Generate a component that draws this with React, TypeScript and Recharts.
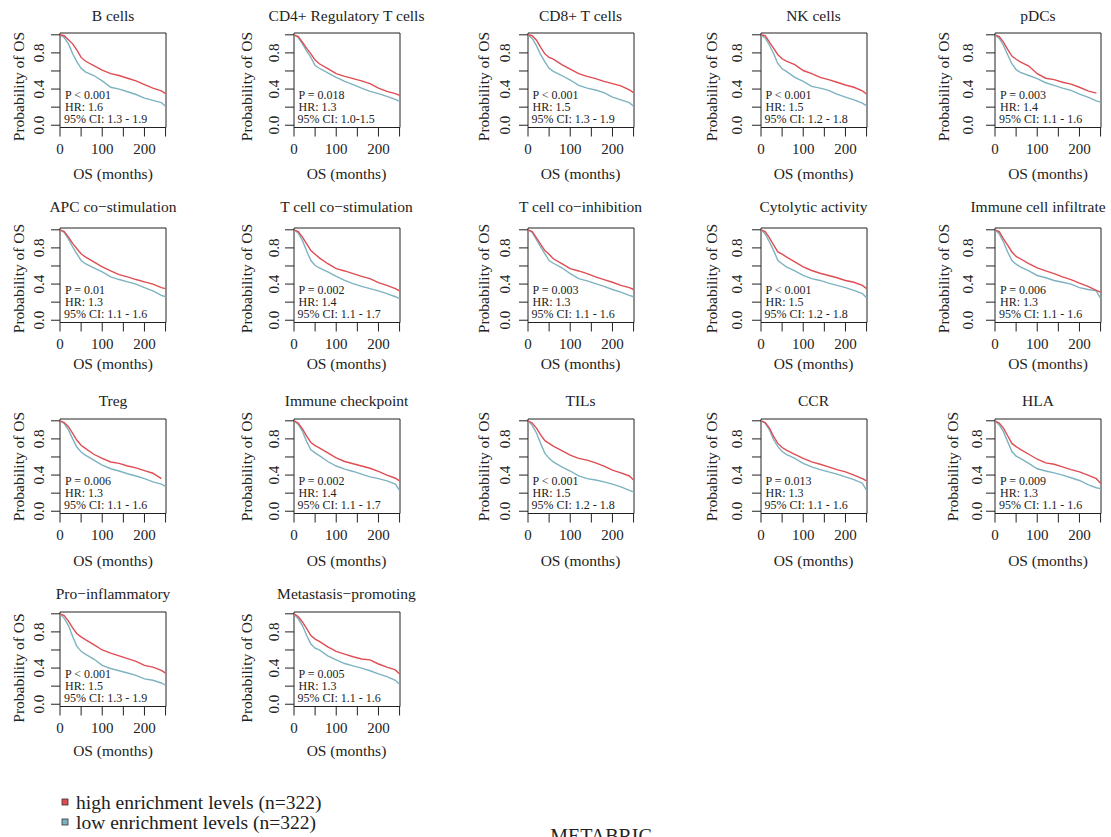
import React from "react";
import { LineChart, Line, XAxis, YAxis, ReferenceArea } from "recharts";

// ---------- DATA ----------
const months = [0, 10, 20, 30, 40, 50, 60, 80, 100, 120, 140, 160, 180, 200, 220, 240, 250];

const bCellsHigh = [1, 0.99, 0.945, 0.9, 0.83, 0.75, 0.71, 0.66, 0.61, 0.57, 0.55, 0.52, 0.49, 0.45, 0.41, 0.38, 0.35];
const bCellsLow = [1, 0.97, 0.9, 0.79, 0.7, 0.63, 0.59, 0.55, 0.49, 0.42, 0.4, 0.37, 0.34, 0.3, 0.275, 0.25, 0.21];
const cd4High = [1, 0.98, 0.92, 0.85, 0.79, 0.72, 0.68, 0.625, 0.57, 0.54, 0.515, 0.49, 0.46, 0.41, 0.375, 0.35, 0.33];
const cd4Low = [1, 0.97, 0.9, 0.82, 0.75, 0.66, 0.63, 0.58, 0.53, 0.485, 0.45, 0.41, 0.375, 0.35, 0.32, 0.285, 0.265];
const cd8High = [1, 0.99, 0.94, 0.86, 0.79, 0.75, 0.73, 0.67, 0.62, 0.57, 0.54, 0.515, 0.485, 0.46, 0.435, 0.39, 0.36];
const cd8Low = [1, 0.96, 0.88, 0.78, 0.7, 0.63, 0.595, 0.55, 0.5, 0.44, 0.41, 0.39, 0.36, 0.31, 0.28, 0.25, 0.21];
const nkHigh = [1, 0.99, 0.92, 0.85, 0.78, 0.735, 0.71, 0.67, 0.605, 0.57, 0.53, 0.505, 0.475, 0.445, 0.42, 0.38, 0.345];
const nkLow = [1, 0.965, 0.885, 0.79, 0.68, 0.625, 0.595, 0.53, 0.485, 0.43, 0.41, 0.385, 0.345, 0.31, 0.28, 0.245, 0.215];
const pdcHigh = [1, 0.98, 0.92, 0.84, 0.765, 0.73, 0.7, 0.655, 0.57, 0.52, 0.505, 0.475, 0.455, 0.42, 0.38, 0.355, null];
const pdcLow = [1, 0.96, 0.885, 0.78, 0.68, 0.615, 0.585, 0.55, 0.515, 0.47, 0.44, 0.41, 0.385, 0.345, 0.31, 0.27, 0.255];
const apcHigh = [1, 0.98, 0.92, 0.85, 0.79, 0.735, 0.7, 0.645, 0.59, 0.545, 0.505, 0.48, 0.45, 0.425, 0.4, 0.36, 0.35];
const apcLow = [1, 0.97, 0.9, 0.81, 0.735, 0.66, 0.625, 0.58, 0.535, 0.48, 0.45, 0.425, 0.4, 0.36, 0.325, 0.275, 0.26];
const tcsHigh = [1, 0.98, 0.92, 0.845, 0.77, 0.73, 0.69, 0.625, 0.57, 0.545, 0.515, 0.485, 0.46, 0.415, 0.385, 0.35, 0.325];
const tcsLow = [1, 0.965, 0.88, 0.765, 0.66, 0.605, 0.58, 0.535, 0.485, 0.44, 0.405, 0.375, 0.35, 0.325, 0.295, 0.26, 0.24];
const tciHigh = [1, 0.98, 0.91, 0.84, 0.77, 0.73, 0.68, 0.625, 0.57, 0.545, 0.515, 0.48, 0.45, 0.42, 0.385, 0.36, 0.34];
const tciLow = [1, 0.97, 0.89, 0.81, 0.735, 0.66, 0.63, 0.58, 0.515, 0.46, 0.435, 0.405, 0.375, 0.34, 0.31, 0.275, 0.26];
const cytHigh = [1, 0.98, 0.91, 0.83, 0.755, 0.73, 0.7, 0.645, 0.59, 0.55, 0.52, 0.495, 0.47, 0.44, 0.42, 0.385, 0.35];
const cytLow = [1, 0.955, 0.865, 0.77, 0.66, 0.625, 0.59, 0.545, 0.495, 0.46, 0.44, 0.41, 0.385, 0.36, 0.33, 0.295, 0.25];
const iciHigh = [1, 0.98, 0.9, 0.83, 0.755, 0.705, 0.68, 0.625, 0.58, 0.545, 0.515, 0.48, 0.45, 0.41, 0.375, 0.33, 0.31];
const iciLow = [1, 0.955, 0.865, 0.755, 0.66, 0.62, 0.59, 0.545, 0.495, 0.47, 0.44, 0.42, 0.4, 0.36, 0.34, 0.325, 0.24];
const tregHigh = [1, 0.98, 0.935, 0.86, 0.785, 0.73, 0.695, 0.63, 0.585, 0.545, 0.53, 0.5, 0.48, 0.45, 0.42, 0.36, null];
const tregLow = [1, 0.97, 0.9, 0.8, 0.71, 0.655, 0.62, 0.565, 0.51, 0.47, 0.445, 0.415, 0.39, 0.36, 0.325, 0.3, 0.275];
const chkHigh = [1, 0.975, 0.91, 0.83, 0.76, 0.725, 0.7, 0.645, 0.59, 0.55, 0.525, 0.5, 0.475, 0.44, 0.4, 0.365, 0.335];
const chkLow = [1, 0.96, 0.885, 0.77, 0.68, 0.645, 0.615, 0.55, 0.5, 0.465, 0.44, 0.41, 0.38, 0.36, 0.335, 0.3, 0.23];
const tilHigh = [1, 0.975, 0.92, 0.845, 0.78, 0.75, 0.72, 0.67, 0.62, 0.585, 0.565, 0.535, 0.5, 0.455, 0.425, 0.39, 0.345];
const tilLow = [1, 0.95, 0.865, 0.75, 0.64, 0.585, 0.545, 0.49, 0.445, 0.39, 0.36, 0.345, 0.325, 0.3, 0.27, 0.23, 0.215];
const ccrHigh = [1, 0.98, 0.92, 0.825, 0.75, 0.705, 0.675, 0.63, 0.585, 0.545, 0.52, 0.49, 0.46, 0.435, 0.4, 0.36, 0.335];
const ccrLow = [1, 0.975, 0.9, 0.79, 0.715, 0.66, 0.63, 0.585, 0.53, 0.49, 0.46, 0.435, 0.41, 0.38, 0.35, 0.31, 0.23];
const hlaHigh = [1, 0.975, 0.92, 0.835, 0.75, 0.715, 0.685, 0.63, 0.575, 0.535, 0.52, 0.49, 0.46, 0.435, 0.4, 0.36, 0.31];
const hlaLow = [1, 0.955, 0.88, 0.77, 0.66, 0.61, 0.585, 0.53, 0.47, 0.445, 0.425, 0.4, 0.37, 0.34, 0.295, 0.26, 0.25];
const proHigh = [1, 0.98, 0.92, 0.845, 0.78, 0.745, 0.715, 0.66, 0.6, 0.565, 0.535, 0.505, 0.475, 0.43, 0.41, 0.375, 0.345];
const proLow = [1, 0.95, 0.87, 0.75, 0.64, 0.585, 0.555, 0.5, 0.43, 0.395, 0.37, 0.345, 0.32, 0.28, 0.265, 0.235, 0.21];
const metHigh = [1, 0.97, 0.91, 0.835, 0.76, 0.72, 0.695, 0.635, 0.585, 0.555, 0.525, 0.5, 0.49, 0.445, 0.41, 0.38, 0.335];
const metLow = [1, 0.945, 0.87, 0.76, 0.665, 0.62, 0.6, 0.535, 0.49, 0.45, 0.425, 0.4, 0.37, 0.335, 0.305, 0.265, 0.22];

const titles = [
  "B cells", "CD4+ Regulatory T cells", "CD8+ T cells", "NK cells", "pDCs",
  "APC co\u2212stimulation", "T cell co\u2212stimulation", "T cell co\u2212inhibition", "Cytolytic activity", "Immune cell infiltrate",
  "Treg", "Immune checkpoint", "TILs", "CCR", "HLA",
  "Pro\u2212inflammatory", "Metastasis\u2212promoting",
];
const pValues = [
  "P < 0.001", "P = 0.018", "P < 0.001", "P < 0.001", "P = 0.003",
  "P = 0.01", "P = 0.002", "P = 0.003", "P < 0.001", "P = 0.006",
  "P = 0.006", "P = 0.002", "P < 0.001", "P = 0.013", "P = 0.009",
  "P < 0.001", "P = 0.005",
];
const hrValues = [
  "HR: 1.6", "HR: 1.3", "HR: 1.5", "HR: 1.5", "HR: 1.4",
  "HR: 1.3", "HR: 1.4", "HR: 1.3", "HR: 1.5", "HR: 1.3",
  "HR: 1.3", "HR: 1.4", "HR: 1.5", "HR: 1.3", "HR: 1.3",
  "HR: 1.5", "HR: 1.3",
];
const ciValues = [
  "95% CI: 1.3 - 1.9", "95% CI: 1.0-1.5", "95% CI: 1.3 - 1.9", "95% CI: 1.2 - 1.8", "95% CI: 1.1 - 1.6",
  "95% CI: 1.1 - 1.6", "95% CI: 1.1 - 1.7", "95% CI: 1.1 - 1.6", "95% CI: 1.2 - 1.8", "95% CI: 1.1 - 1.6",
  "95% CI: 1.1 - 1.6", "95% CI: 1.1 - 1.7", "95% CI: 1.2 - 1.8", "95% CI: 1.1 - 1.6", "95% CI: 1.1 - 1.6",
  "95% CI: 1.3 - 1.9", "95% CI: 1.1 - 1.6",
];
const highSeries = [bCellsHigh, cd4High, cd8High, nkHigh, pdcHigh, apcHigh, tcsHigh, tciHigh, cytHigh, iciHigh, tregHigh, chkHigh, tilHigh, ccrHigh, hlaHigh, proHigh, metHigh];
const lowSeries = [bCellsLow, cd4Low, cd8Low, nkLow, pdcLow, apcLow, tcsLow, tciLow, cytLow, iciLow, tregLow, chkLow, tilLow, ccrLow, hlaLow, proLow, metLow];

const xTicks = [0, 50, 100, 150, 200, 250];
const xTickLabels = [0, 100, 200];
const yTicks = [0, 0.2, 0.4, 0.6, 0.8, 1.0];
const yTickLabels = [0, 0.4, 0.8];
const legendLabels = ["high enrichment levels (n=322)", "low enrichment levels (n=322)"];
const footer = "METABRIC";

// ---------- LAYOUT / STYLE ----------
const RED = "#DF4D53";
const BLUE = "#7DB3C1";
const FONT = "'Liberation Serif', 'Times New Roman', serif";
const BOX_W = 106;
const BOX_H = 94.5;
const COL_X = [60, 293.5, 527.5, 760.5, 995];
const ROW_Y = [32.5, 227.5, 418.5, 612];
const TITLE_DY = [-17.5, -21, -18, -19];
const TITLE_DX = [0, 0, 0, 0, -10];
const XLAB_DY = [46, 41, 47, 44];
const YLAB_DY = [54, 51, 48, 56];
const YLAB_DX = [42, 47, 44, 49, 52];
const YTICK_DX = [21, 20, 23, 24, 27];
const CH_PAD_L = 60;
const CH_PAD_T = 30;
const CH_W = 240;
const CH_H = 200;
const ANN_FS = 12;

function Panel({ idx }: { idx: number }) {
  const col = idx % 5;
  const row = Math.floor(idx / 5);
  const left = COL_X[col];
  const top = ROW_Y[row];
  const hi = highSeries[idx];
  const lo = lowSeries[idx];
  const rows = months.map((t, i) => ({ t, high: hi[i], low: lo[i] }));
  const yDx = row === 2 && col === 4 ? 18 : YTICK_DX[col];

  const YTick = (props: any) => {
    const v = Number(props.payload.value);
    if (!yTickLabels.some((l) => Math.abs(l - v) < 1e-6)) return <g />;
    const cx = CH_PAD_L - yDx;
    return (
      <text
        x={cx}
        y={props.y}
        transform={`rotate(-90 ${cx} ${props.y})`}
        textAnchor="middle"
        dominantBaseline="central"
        fontFamily={FONT}
        fontSize={15}
        fill="#222"
      >
        {v.toFixed(1)}
      </text>
    );
  };
  const XTick = (props: any) => {
    const v = Number(props.payload.value);
    if (!xTickLabels.includes(v)) return <g />;
    return (
      <text
        x={props.x}
        y={CH_PAD_T + BOX_H + 21}
        textAnchor="middle"
        dominantBaseline="central"
        fontFamily={FONT}
        fontSize={15}
        fill="#222"
      >
        {v}
      </text>
    );
  };

  return (
    <div style={{ position: "absolute", left: left - CH_PAD_L, top: top - CH_PAD_T }}>
      <LineChart
        width={CH_W}
        height={CH_H}
        data={rows}
        margin={{ top: CH_PAD_T, left: 0, right: CH_W - CH_PAD_L - BOX_W, bottom: 0 }}
      >
        <XAxis
          type="number"
          dataKey="t"
          domain={[0, 251]}
          ticks={xTicks}
          interval={0}
          tickSize={9}
          axisLine={false}
          tickLine={{ stroke: "#222" }}
          tick={XTick}
          height={CH_H - CH_PAD_T - BOX_H}
          allowDataOverflow
        />
        <YAxis
          type="number"
          domain={[-0.025, 1.02]}
          ticks={yTicks}
          interval={0}
          tickSize={9}
          axisLine={false}
          tickLine={{ stroke: "#222" }}
          tick={YTick}
          width={CH_PAD_L}
          allowDataOverflow
        />
        <Line type="linear" dataKey="low" stroke={BLUE} strokeWidth={1.4} dot={false} isAnimationActive={false} />
        <Line type="linear" dataKey="high" stroke={RED} strokeWidth={1.4} dot={false} isAnimationActive={false} />
        <ReferenceArea
          x1={0}
          x2={251}
          y1={-0.025}
          y2={1.02}
          fill="none"
          fillOpacity={0}
          stroke="#222"
          strokeWidth={1}
          ifOverflow="visible"
        />
      </LineChart>
    </div>
  );
}

function Overlay() {
  const items: React.ReactNode[] = [];
  titles.forEach((title, idx) => {
    const col = idx % 5;
    const row = Math.floor(idx / 5);
    const left = COL_X[col];
    const top = ROW_Y[row];
    const cx = left + BOX_W / 2;
    const ylx = row === 2 && col === 4 ? 43 : YLAB_DX[col];
    items.push(
      <text key={`t${idx}`} x={cx + TITLE_DX[col]} y={top + TITLE_DY[row]} textAnchor="middle" dominantBaseline="central" fontSize={15.5}>
        {title}
      </text>,
      <text key={`x${idx}`} x={cx} y={top + BOX_H + XLAB_DY[row]} textAnchor="middle" dominantBaseline="central" fontSize={15.5}>
        OS (months)
      </text>,
      <text
        key={`y${idx}`}
        x={left - ylx}
        y={top + YLAB_DY[row]}
        transform={`rotate(-90 ${left - ylx} ${top + YLAB_DY[row]})`}
        textAnchor="middle"
        dominantBaseline="central"
        fontSize={15.5}
      >
        Probability of OS
      </text>,
      <text key={`p${idx}`} x={left + 5} y={top + 62} dominantBaseline="central" fontSize={ANN_FS}>
        {pValues[idx]}
      </text>,
      <text key={`h${idx}`} x={left + 5} y={top + 74} dominantBaseline="central" fontSize={ANN_FS}>
        {hrValues[idx]}
      </text>,
      <text key={`c${idx}`} x={left + 4} y={top + 86} dominantBaseline="central" fontSize={ANN_FS}>
        {ciValues[idx]}
      </text>
    );
  });
  return (
    <svg
      width={1111}
      height={837}
      style={{ position: "absolute", left: 0, top: 0, pointerEvents: "none" }}
      fontFamily={FONT}
      fill="#222"
    >
      {items}
      <rect x={62} y={799} width={6} height={6} fill={RED} stroke="#333" strokeWidth={0.8} />
      <text x={76} y={802.5} dominantBaseline="central" fontSize={19.5}>{legendLabels[0]}</text>
      <rect x={62} y={819} width={6} height={6} fill={BLUE} stroke="#333" strokeWidth={0.8} />
      <text x={76} y={822.5} dominantBaseline="central" fontSize={19.5}>{legendLabels[1]}</text>
      <text x={601} y={836} textAnchor="middle" dominantBaseline="central" fontSize={20}>{footer}</text>
    </svg>
  );
}

export default function App() {
  return (
    <div style={{ position: "absolute", left: 0, top: 0, width: 1111, height: 837, background: "#fff", overflow: "hidden" }}>
      {titles.map((_, idx) => (
        <Panel key={idx} idx={idx} />
      ))}
      <Overlay />
    </div>
  );
}
